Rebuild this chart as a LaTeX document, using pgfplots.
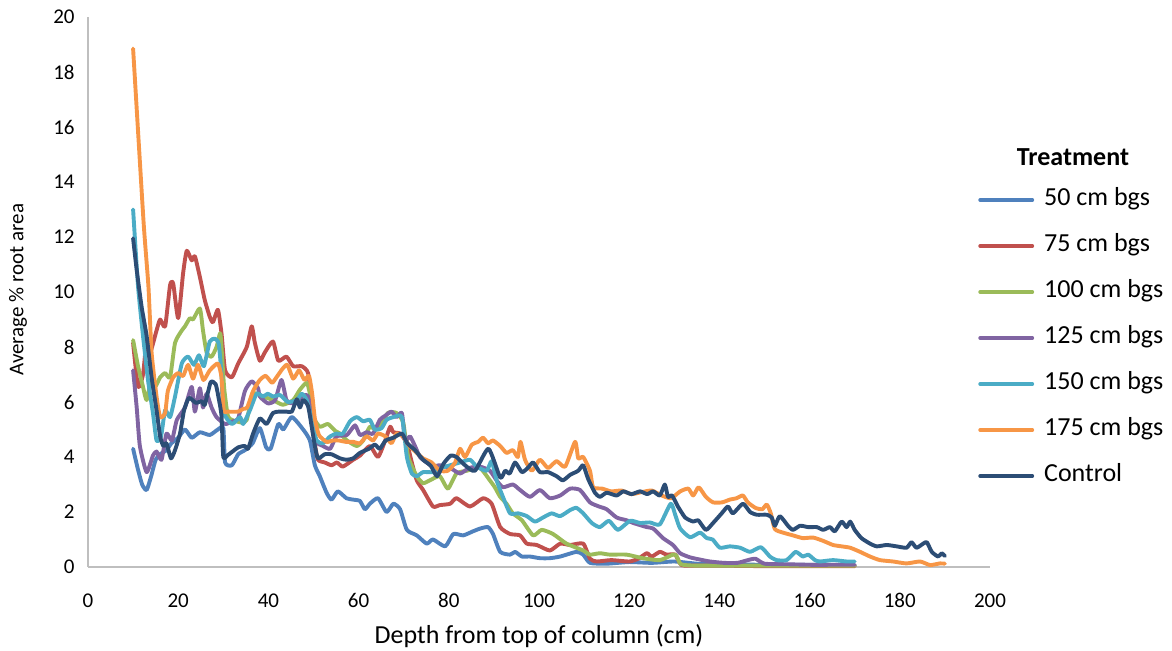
\documentclass[border=0pt]{standalone}
\usepackage{fontspec}
\setmainfont{Carlito}
\usepackage{pgfplots}
\pgfplotsset{compat=1.18}

\definecolor{sA}{HTML}{4F81BD}
\definecolor{sB}{HTML}{C0504D}
\definecolor{sC}{HTML}{9BBB59}
\definecolor{sD}{HTML}{8064A2}
\definecolor{sE}{HTML}{4BACC6}
\definecolor{sF}{HTML}{F79646}
\definecolor{sG}{HTML}{2C4D75}
\definecolor{axgray}{HTML}{BFBFBF}

\begin{document}
\begin{tikzpicture}
\begin{axis}[
  scale only axis, width=451pt, height=275pt,
  at={(0,0)}, anchor=south west,
  xmin=0, xmax=200, ymin=0, ymax=20,
  xtick={0,20,...,200}, ytick={0,2,...,20},
  axis x line*=bottom, axis y line*=left,
  axis line style={axgray, line width=1pt, -},
  major tick length=0pt,
  /pgf/number format/assume math mode=true,
  tick label style={font=\fontsize{10.5}{12}\selectfont, black, inner sep=0pt},
  xticklabel style={anchor=north, yshift=-13pt},
  yticklabel style={anchor=east, xshift=-6.5pt},
  xlabel={Depth from top of column (cm)},
  ylabel={Average \% root area},
  xlabel style={font=\fontsize{13}{15}\selectfont, at={(axis description cs:0.5,0)}, anchor=center, yshift=-34.5pt},
  ylabel style={font=\fontsize{10.5}{12}\selectfont, at={(axis description cs:0,0.504)}, anchor=center, xshift=0pt, yshift=35pt},
  legend image code/.code={\draw[#1] (0pt,0pt) -- (26pt,0pt);},
  legend style={draw=none, fill=none, inner sep=0pt, outer sep=0pt,
    at={(axis description cs:0.987,0.6892)}, anchor=north west,
    font=\fontsize{13}{15}\selectfont, row sep=11pt,
    nodes={inner sep=0pt, text height=9pt, text depth=3pt},
    /tikz/every odd column/.append style={column sep=5pt}},
  legend cell align=left,
  every axis plot/.append style={line width=1.95pt, line join=round, line cap=round, smooth, tension=0.35},
  clip=false
]
% 50 cm bgs
\addplot[sA] coordinates {
(10,4.3)(11,3.6)(12,3.0)(13,2.8)(14,3.3)(15,3.9)(16,4.1)(17.4,4.25)(18.5,4.5)(20,4.7)(21.5,5.0)(23,4.7)(24.8,4.9)(27,4.8)(28.8,5.0)(30,5.05)(30.4,3.8)(31.9,3.7)(33.3,4.1)(34.8,4.25)(36.5,4.5)(38.1,5.05)(39.5,4.35)(40.5,4.3)(42.2,5.2)(43.3,5.0)(45.2,5.45)(47.7,5.0)(49.2,4.6)(50.3,3.7)(51.4,3.3)(52.9,2.7)(54,2.45)(55.4,2.75)(57.3,2.5)(58.8,2.45)(60.3,2.4)(61.4,2.1)(62.5,2.3)(64.3,2.5)(66.2,2.0)(67.7,2.3)(69.2,2.1)(70.7,1.35)(72.9,1.15)(75.1,0.85)(76.5,1.0)(79.2,0.75)(81,1.2)(83.2,1.15)(85.4,1.3)(87,1.4)(88.7,1.45)(89.8,1.2)(91.4,0.55)(93.6,0.45)(94.7,0.55)(96.2,0.38)(98,0.38)(100.2,0.32)(102.4,0.32)(104.7,0.38)(108.3,0.55)(109.8,0.45)(111.3,0.15)(115,0.12)(120,0.18)(125,0.15)(130,0.2)(135,0.12)(140,0.1)(150,0.08)(160,0.08)(170,0.05)};
% 75 cm bgs
\addplot[sB] coordinates {
(10,8.15)(11.1,6.55)(12.2,7.0)(13,8.25)(13.7,7.75)(15.2,8.6)(16,9.0)(17.1,8.75)(18.2,10.25)(18.9,10.3)(20,9.05)(21.1,10.7)(21.9,11.5)(23,11.15)(23.7,11.3)(24.8,10.55)(25.9,9.7)(27,9.1)(27.7,8.9)(28.8,9.35)(29.6,8.5)(30.4,7.15)(31.9,6.9)(33.3,7.4)(35.2,8.0)(36.3,8.75)(37,8.15)(38.1,7.5)(39.2,7.8)(41,8.2)(42.2,7.5)(44,7.65)(45.5,7.3)(47.4,7.3)(48.8,7.05)(49.6,5.95)(50.3,4.5)(51,3.9)(52.5,3.8)(54,3.7)(55.2,3.8)(56.5,3.65)(58.8,3.9)(60.3,4.05)(62.5,4.4)(64.3,4.0)(65.9,4.6)(67,5.1)(67.7,4.9)(69.2,4.85)(70.7,4.5)(71.8,3.8)(72.9,3.15)(74.3,2.8)(76.5,2.2)(78,2.25)(80.3,2.3)(81.7,2.5)(84.7,2.2)(87.6,2.5)(89.5,2.3)(91.4,1.45)(93.6,1.2)(95.8,1.15)(97.3,0.85)(99.5,0.8)(102.4,0.6)(104.7,0.85)(106.9,0.8)(109.8,0.85)(111.3,0.3)(112.8,0.2)(116,0.25)(120,0.2)(122,0.3)(123.9,0.5)(125,0.38)(126.8,0.55)(128.3,0.45)(130.2,0.45)(131.6,0.07)(135,0.05)(140,0.05)(150,0.03)(160,0.03)(170,0.03)};
% 100 cm bgs
\addplot[sC] coordinates {
(10,8.25)(11.1,7.3)(12.2,6.55)(13,6.07)(14,6.8)(14.9,6.55)(16,6.9)(17.1,7.05)(18.2,6.9)(19.3,8.15)(20.8,8.6)(21.5,8.75)(22.6,9.05)(23.3,9.0)(24.8,9.4)(25.5,8.6)(26.3,7.8)(27.4,7.65)(28.5,8.0)(29.3,8.5)(29.6,8.0)(30.2,6.5)(31,5.5)(31.9,5.35)(34.1,5.25)(35.2,5.35)(36.6,6.3)(38.8,6.2)(41,6.07)(43.2,5.9)(45.5,6.07)(47,6.45)(48.5,6.7)(49.2,6.3)(50,5.45)(51.4,5.1)(53.2,5.2)(54.8,4.95)(55.9,4.85)(57.4,4.6)(59.6,4.4)(61,4.6)(62.5,5.1)(64,5.0)(66.5,5.6)(68.4,5.6)(69.9,5.25)(71,4.0)(72.9,3.3)(74.3,3.05)(75.8,3.15)(78,3.3)(79.8,2.85)(81.7,3.4)(84,3.5)(86.9,3.6)(89.1,3.15)(90.2,2.9)(91.4,2.55)(92.8,2.3)(94.2,1.95)(96.2,1.7)(98.7,1.15)(100.6,1.35)(103.1,1.2)(106.1,0.85)(109.8,0.6)(111.3,0.45)(113.5,0.5)(115.7,0.45)(119.4,0.45)(123,0.32)(126.8,0.25)(129.7,0.45)(130.5,0.4)(131.5,0.1)(135,0.05)(150,0.05)(170,0.05)};
% 125 cm bgs
\addplot[sD] coordinates {
(10,7.15)(10.8,5.8)(11.5,4.4)(13,3.45)(14.4,4.05)(15.2,4.2)(16.3,3.9)(17.4,4.85)(18.6,4.6)(19.7,5.35)(21.5,5.8)(23,6.55)(23.7,5.65)(24.8,6.5)(25.5,5.8)(26.3,6.3)(27.4,5.8)(28.5,5.45)(30.4,5.2)(32.2,5.3)(33.3,5.4)(34.8,6.4)(36.3,6.75)(37.7,6.5)(38.1,6.2)(39.9,5.95)(41.5,6.07)(42.9,6.8)(44,6.07)(45.2,5.95)(46.6,6.07)(48.1,6.25)(48.8,6.2)(49.6,5.6)(50.3,4.6)(52.1,4.4)(53.7,4.3)(55.1,4.75)(57.4,4.8)(59.2,5.15)(60.3,4.8)(61.8,4.9)(63.2,4.85)(64.7,5.35)(65.9,5.5)(67.3,5.65)(68.4,5.45)(69.6,5.6)(70.3,4.6)(71.4,4.75)(72.5,4.4)(73.6,4.0)(75.1,3.8)(76.5,3.65)(78,3.7)(80.3,3.6)(82.5,3.4)(84.5,3.6)(86.9,3.65)(89.1,3.5)(90.6,3.15)(92,2.9)(94.2,3.0)(95.8,2.8)(98,2.55)(100.2,2.8)(102.4,2.5)(104.7,2.6)(106.9,2.85)(109.1,2.8)(111.3,2.35)(113.3,2.2)(115,2.1)(117.2,1.8)(119.4,1.7)(120.9,1.6)(123.9,1.45)(125.3,1.4)(127.5,1.05)(129.7,0.8)(131.3,0.5)(133.5,0.35)(135.7,0.27)(137.9,0.2)(141,0.15)(144,0.15)(146.3,0.25)(148,0.3)(150,0.12)(155,0.1)(160,0.08)(165,0.08)(170,0.08)};
% 150 cm bgs
\addplot[sE] coordinates {
(10,13.0)(11.1,10.2)(12.2,8.4)(13.3,6.8)(14.4,5.6)(15.2,4.6)(16.2,4.75)(17.1,5.7)(18.2,5.45)(19.3,6.2)(20.8,7.4)(22.2,7.65)(23.5,7.35)(24.6,7.7)(25.7,7.3)(27,8.2)(28.2,8.3)(29,8.1)(29.6,7.0)(30,5.65)(31.9,5.2)(33.7,5.45)(34.4,5.2)(35.9,5.7)(37.4,6.3)(38.8,6.2)(39.9,6.3)(41,6.2)(42.6,6.25)(44.3,6.0)(46.3,6.07)(47.4,6.3)(48.5,6.07)(49.6,5.35)(50.7,4.6)(52.1,4.5)(53.7,4.75)(55.1,4.85)(56.5,4.85)(58.1,5.3)(59.6,5.45)(61,5.3)(62.5,5.35)(63.6,5.0)(65.1,5.05)(66.2,5.35)(67.7,5.45)(69.6,5.45)(70.7,4.0)(71.8,3.4)(72.9,3.3)(74.3,3.45)(76.5,3.45)(78.4,3.6)(80.3,3.7)(82.5,3.8)(84.7,3.9)(86.2,3.65)(88.4,3.5)(89.5,3.85)(90.6,3.15)(92,2.55)(93.6,1.95)(95.4,1.95)(97.3,1.85)(99.1,1.65)(100.9,1.8)(102.8,1.95)(104.7,1.85)(106.9,2.07)(108.3,2.15)(109.8,1.95)(111.7,1.6)(113.5,1.45)(115.5,1.68)(117.5,1.35)(120.2,1.68)(122.4,1.6)(124.6,1.62)(126.8,1.55)(129.2,2.3)(130.2,1.9)(131.3,1.4)(133.5,1.08)(135.7,1.25)(137.2,1.05)(138.5,1.0)(140.1,0.7)(142.3,0.75)(144.6,0.7)(146.8,0.55)(149.2,0.72)(151.2,0.38)(152.7,0.25)(154.9,0.25)(156.9,0.55)(158.5,0.38)(159.7,0.45)(161.2,0.25)(162.3,0.2)(165.2,0.25)(168.2,0.2)(170,0.2)};
% 175 cm bgs
\addplot[sF] coordinates {
(10,18.85)(12.3,12.6)(13.4,10.2)(14.1,7.8)(15.2,6.2)(16,5.45)(17.1,5.6)(17.7,6.4)(18.9,6.9)(20,7.05)(21.1,6.95)(22.2,7.35)(23.3,6.85)(24.4,7.35)(25.6,6.8)(27,7.15)(28.8,7.4)(29.6,6.9)(30.1,5.7)(31,5.65)(33.3,5.65)(34.4,5.75)(35.3,5.8)(36.6,6.4)(38.1,6.8)(39.4,6.95)(40.8,6.7)(41.8,6.9)(43.1,7.2)(44.2,7.35)(45.5,6.85)(46.8,7.15)(48,6.8)(49,6.95)(49.7,6.3)(50.3,5.4)(51.2,4.8)(52.9,4.55)(54.3,4.6)(55.6,4.6)(57.2,4.55)(58.8,4.55)(60.3,4.5)(61.8,4.75)(63.2,4.6)(64.3,4.85)(65.9,4.75)(67.3,4.5)(68.4,4.85)(69.9,4.75)(71,4.45)(72.9,4.15)(74.3,3.95)(76.2,3.8)(78,3.5)(79.8,3.5)(81.4,3.8)(82.5,4.3)(83.6,4.0)(85.1,4.45)(86.5,4.55)(87.6,4.7)(88.7,4.5)(89.8,4.6)(91.4,4.4)(92.8,4.15)(94.2,4.25)(95.3,4.0)(95.9,4.55)(96.9,3.9)(98.4,3.5)(100.2,3.9)(102,3.6)(103.9,3.85)(105.8,3.65)(108,4.55)(108.7,3.95)(109.8,4.0)(111.3,3.5)(112,2.9)(114,2.85)(116,2.75)(118.3,2.78)(120.5,2.65)(122.7,2.72)(125,2.78)(127.2,2.6)(129.3,2.5)(131.3,2.75)(133.1,2.85)(134.2,2.6)(135.4,2.9)(137,2.55)(138.6,2.35)(140.6,2.35)(142.3,2.45)(143.8,2.5)(145.2,2.6)(146.3,2.35)(148,2.15)(149.5,2.1)(150.5,2.27)(151.4,1.95)(152.3,1.38)(154.1,1.25)(156.3,1.15)(158.5,1.05)(160.8,1.07)(163,0.95)(165.2,0.8)(167.1,0.75)(169,0.7)(171.2,0.55)(173.4,0.38)(175.6,0.25)(178.5,0.2)(181.5,0.13)(184.5,0.2)(186.7,0.07)(188.9,0.13)(190,0.12)};
% Control
\addplot[sG] coordinates {
(10,11.95)(10.8,10.8)(11.9,9.45)(13,8.4)(14.1,6.9)(15.2,5.7)(16,4.75)(16.7,4.4)(17.4,4.5)(18.4,3.95)(19.3,4.25)(20.4,4.85)(21.3,5.7)(22.4,6.15)(23.9,5.97)(25.2,6.03)(25.9,5.9)(27.2,6.72)(28.3,6.65)(28.9,6.2)(29.6,5.5)(30,4.0)(31,4.07)(33.3,4.35)(34.8,4.4)(35.5,4.3)(36.6,4.85)(38.1,5.4)(39.6,5.2)(41,5.6)(42.4,5.65)(44,5.65)(45.2,5.65)(46.3,6.1)(47,5.8)(47.7,6.07)(48.8,5.85)(49.6,5.1)(50.3,4.4)(51,3.95)(52.5,4.1)(54,4.1)(55.9,3.95)(57.3,3.9)(58.8,3.95)(60.3,4.15)(62.3,4.3)(63.6,4.45)(64.7,4.3)(66,4.6)(67.7,4.7)(69.6,4.85)(70.8,4.5)(72.5,4.25)(74.3,3.9)(76,3.68)(77.4,3.3)(78.8,3.75)(80.4,4.05)(81.7,4.0)(83.6,3.7)(85.8,3.5)(88.8,4.3)(91.4,3.25)(92.5,3.5)(93.5,3.4)(94.7,3.8)(96.2,3.45)(97.5,3.6)(98.7,3.8)(100.2,3.45)(102,3.45)(103.9,3.3)(105.3,3.15)(106.9,3.35)(108.7,3.5)(109.8,3.7)(110.9,3.2)(112.4,2.7)(113.5,2.55)(115,2.7)(117.2,2.6)(118.7,2.75)(120.5,2.65)(122.4,2.75)(124,2.65)(125.3,2.75)(126.8,2.6)(127.9,3.0)(128.6,2.55)(129.5,2.6)(130.8,2.2)(132.4,1.8)(134.2,1.65)(135.3,1.7)(137,1.35)(138.6,1.6)(140.5,1.95)(141.9,2.2)(143,1.95)(145.2,2.3)(146.8,2.0)(148.3,1.9)(150.5,1.9)(151.6,1.8)(152.3,1.5)(153.4,1.85)(155.2,1.5)(156.3,1.35)(157.9,1.5)(159.7,1.45)(161.6,1.45)(163,1.35)(164.5,1.45)(165.6,1.3)(167.1,1.65)(168.2,1.45)(169,1.65)(170,1.35)(171.5,1.05)(173.4,0.85)(174.9,0.75)(177.1,0.8)(179.3,0.75)(181.5,0.7)(182.6,0.9)(183.7,0.7)(185.2,0.85)(186,0.9)(187.1,0.55)(188.5,0.38)(189.3,0.5)(190,0.4)};
\legend{50 cm bgs,75 cm bgs,100 cm bgs,125 cm bgs,150 cm bgs,175 cm bgs,Control}
\node[font=\bfseries\fontsize{13}{15}\selectfont, anchor=center] at (axis description cs:1.092,0.745) {Treatment};
\end{axis}
\pgfresetboundingbox
\path (-44pt,-42pt) rectangle (542pt,283.5pt);
\end{tikzpicture}
\end{document}
